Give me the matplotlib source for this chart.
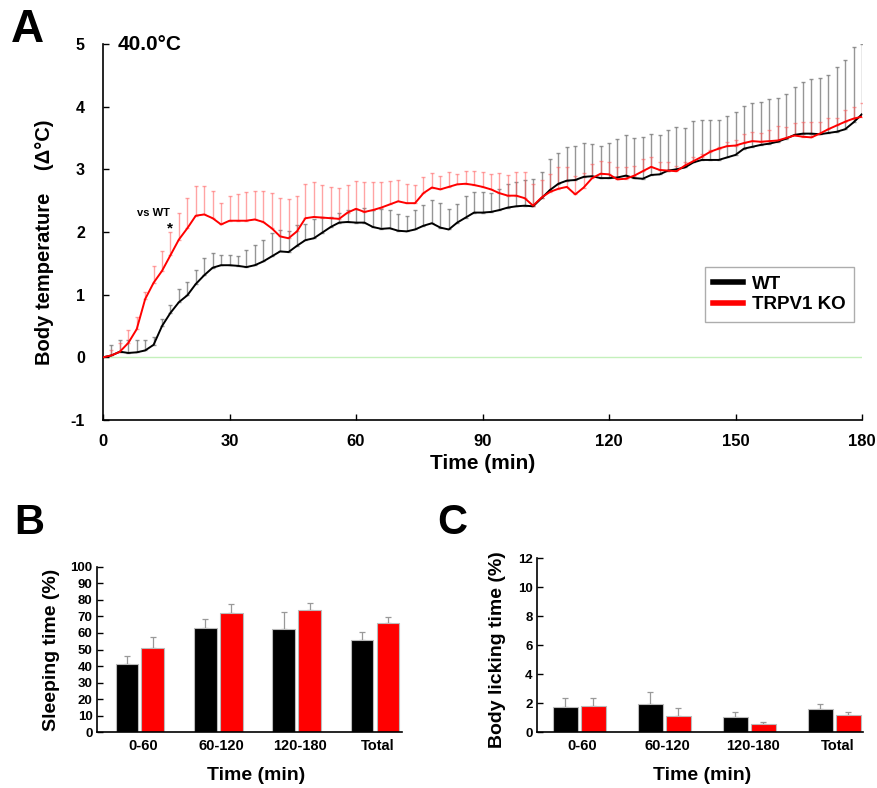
import numpy as np
import matplotlib
matplotlib.use("Agg")
import matplotlib.pyplot as plt
from matplotlib.lines import Line2D

plt.rcParams['font.family'] = ['Liberation Sans', 'DejaVu Sans']
plt.rcParams['font.weight'] = 'bold'
plt.rcParams['axes.unicode_minus'] = False

# ---------------- Panel A data (every 2 min) ----------------
time_min = list(range(0, 181, 2))

wt_mean = [0, 0.03, 0.09, 0.07, 0.08, 0.11, 0.20, 0.50, 0.71, 0.88,
           0.99, 1.17, 1.31, 1.43, 1.47, 1.47, 1.46, 1.44, 1.47, 1.53,
           1.61, 1.69, 1.68, 1.78, 1.87, 1.90, 1.99, 2.08, 2.15, 2.16,
           2.15, 2.15, 2.08, 2.05, 2.06, 2.02, 2.01, 2.04, 2.10, 2.14,
           2.07, 2.04, 2.15, 2.23, 2.31, 2.31, 2.32, 2.35, 2.39, 2.41,
           2.42, 2.41, 2.54, 2.67, 2.77, 2.82, 2.83, 2.88, 2.89, 2.86,
           2.86, 2.87, 2.90, 2.86, 2.85, 2.91, 2.92, 2.98, 3.00, 3.03,
           3.11, 3.15, 3.15, 3.15, 3.19, 3.23, 3.33, 3.36, 3.39, 3.41,
           3.44, 3.49, 3.55, 3.57, 3.57, 3.56, 3.58, 3.60, 3.64, 3.75,
           3.88]

wt_upper = [0, 0.19, 0.27, 0.28, 0.28, 0.27, 0.32, 0.61, 0.84, 1.09,
            1.21, 1.40, 1.59, 1.67, 1.64, 1.64, 1.62, 1.71, 1.79, 1.88,
            1.98, 2.03, 2.02, 2.11, 2.12, 2.21, 2.24, 2.24, 2.31, 2.35,
            2.37, 2.39, 2.35, 2.36, 2.35, 2.29, 2.26, 2.35, 2.43, 2.51,
            2.46, 2.37, 2.45, 2.58, 2.64, 2.64, 2.63, 2.68, 2.76, 2.79,
            2.83, 2.84, 2.96, 3.16, 3.26, 3.36, 3.37, 3.42, 3.41, 3.38,
            3.42, 3.48, 3.54, 3.50, 3.52, 3.57, 3.54, 3.62, 3.68, 3.66,
            3.77, 3.78, 3.79, 3.79, 3.85, 3.92, 4.01, 4.06, 4.07, 4.12,
            4.14, 4.21, 4.32, 4.39, 4.44, 4.45, 4.50, 4.63, 4.75, 4.96,
            5.00]

ko_mean = [0, 0.03, 0.09, 0.23, 0.45, 0.93, 1.19, 1.38, 1.63, 1.88,
           2.06, 2.26, 2.28, 2.22, 2.12, 2.18, 2.18, 2.18, 2.20, 2.16,
           2.06, 1.93, 1.90, 2.01, 2.22, 2.24, 2.23, 2.22, 2.21, 2.31,
           2.37, 2.32, 2.35, 2.39, 2.44, 2.49, 2.46, 2.46, 2.62, 2.71,
           2.68, 2.72, 2.76, 2.77, 2.75, 2.72, 2.68, 2.62, 2.58, 2.58,
           2.54, 2.42, 2.55, 2.64, 2.69, 2.72, 2.60, 2.71, 2.86, 2.93,
           2.92, 2.84, 2.85, 2.90, 2.97, 3.04, 2.99, 2.98, 2.97, 3.06,
           3.13, 3.20, 3.28, 3.33, 3.37, 3.38, 3.42, 3.45, 3.44, 3.45,
           3.46, 3.50, 3.54, 3.52, 3.51, 3.57, 3.64, 3.70, 3.76, 3.81,
           3.84]

ko_upper = [0, 0.12, 0.23, 0.44, 0.65, 1.05, 1.45, 1.69, 2.00, 2.31,
            2.54, 2.74, 2.74, 2.65, 2.47, 2.58, 2.60, 2.64, 2.66, 2.65,
            2.62, 2.54, 2.52, 2.58, 2.77, 2.80, 2.75, 2.72, 2.71, 2.75,
            2.82, 2.79, 2.79, 2.79, 2.82, 2.83, 2.76, 2.75, 2.88, 2.94,
            2.90, 2.95, 2.93, 2.98, 2.98, 2.95, 2.93, 2.94, 2.91, 2.96,
            2.95, 2.77, 2.83, 2.92, 3.03, 3.03, 2.90, 2.94, 3.08, 3.14,
            3.12, 3.03, 3.03, 3.06, 3.16, 3.20, 3.12, 3.12, 3.06, 3.12,
            3.20, 3.25, 3.31, 3.36, 3.44, 3.47, 3.56, 3.59, 3.58, 3.63,
            3.69, 3.68, 3.74, 3.76, 3.75, 3.75, 3.82, 3.82, 3.94, 4.00,
            4.06]

a_xticks = [0, 30, 60, 90, 120, 150, 180]
a_yticks = [-1, 0, 1, 2, 3, 4, 5]

# ---------------- Panels B / C data ----------------
bin_labels = ['0-60', '60-120', '120-180', 'Total']
sleep_wt = [41.2, 63.2, 62.6, 55.7]
sleep_wt_sem = [4.9, 5.0, 10.0, 4.7]
sleep_ko = [50.7, 72.2, 73.8, 65.8]
sleep_ko_sem = [7.0, 5.1, 4.1, 3.6]

lick_wt = [1.77, 1.93, 1.08, 1.59]
lick_wt_sem = [0.57, 0.83, 0.30, 0.34]
lick_ko = [1.84, 1.15, 0.55, 1.20]
lick_ko_sem = [0.50, 0.51, 0.14, 0.23]

W, H = 877, 788
fig = plt.figure(figsize=(W / 100, H / 100), dpi=100)


def box(l, t, r, b):
    return [l / W, 1 - b / H, (r - l) / W, (b - t) / H]


# ---------------- Panel A ----------------
ax = fig.add_axes(box(103, 44, 862, 420))
t = np.array(time_min)
wm, wu = np.array(wt_mean), np.array(wt_upper)
km, ku = np.array(ko_mean), np.array(ko_upper)
werr = np.maximum(wu - wm, 0)
kerr = np.maximum(ku - km, 0)

ax.axhline(0, color='#c4f0bc', lw=1.0, zorder=0)
ax.errorbar(t[1:], wm[1:], yerr=[np.zeros(len(t) - 1), werr[1:]], fmt='none',
            ecolor=(0.45, 0.45, 0.45, 0.75), elinewidth=1.0, capsize=1.5, capthick=1.0, zorder=1)
ax.errorbar(t[1:], km[1:], yerr=[np.zeros(len(t) - 1), kerr[1:]], fmt='none',
            ecolor=(1.0, 0.35, 0.35, 0.55), elinewidth=1.0, capsize=1.5, capthick=1.0, zorder=1)
ax.plot(t, wm, color='black', lw=1.4, zorder=3)
ax.plot(t, km, color='#ff0000', lw=1.4, zorder=4)

ax.set_xlim(0, 180)
ax.set_ylim(-1, 5)
ax.set_xticks(a_xticks)
ax.set_yticks(a_yticks)
ax.tick_params(direction='in', length=4, width=1, labelsize=12, pad=10)
ax.tick_params(axis='y', labelsize=11.5, pad=13)
for lab in ax.get_xticklabels() + ax.get_yticklabels():
    lab.set_fontweight('bold')
for s in ['top', 'right']:
    ax.spines[s].set_visible(False)
for s in ['left', 'bottom']:
    ax.spines[s].set_linewidth(1.2)
ax.set_xlabel('Time (min)', fontsize=15, fontweight='bold', labelpad=4)
ax.text(3.5, 5.0, '40.0°C', fontsize=15, fontweight='bold', ha='left', va='center')
ax.text(12.0, 2.3, 'vs WT', fontsize=8, fontweight='bold', ha='center', va='center')
ax.text(15.8, 2.05, '*', fontsize=11, fontweight='bold', ha='center', va='center')

handles = [Line2D([], [], color='black', lw=4), Line2D([], [], color='#ff0000', lw=4)]
leg = ax.legend(handles, ['WT', 'TRPV1 KO'], loc='upper left',
                bbox_to_anchor=((705 - 103) / 759, (420 - 267) / 376), borderaxespad=0,
                prop={'weight': 'bold', 'size': 13.5}, frameon=True, fancybox=False,
                edgecolor='#999999', handlelength=1.6, handletextpad=0.45,
                borderpad=0.45, labelspacing=0.2)
leg.get_frame().set_linewidth(1.0)

fig.text(45 / W, 1 - 242 / H, 'Body temperature    (\u0394°C)', rotation=90, fontsize=14.5,
         fontweight='bold', ha='center', va='center')
fig.text(11 / W, 1 - 30 / H, 'A', fontsize=33, fontweight='bold', ha='left', va='center')
fig.text(14 / W, 1 - 523 / H, 'B', fontsize=30, fontweight='bold', ha='left', va='center')
fig.text(437 / W, 1 - 523 / H, 'C', fontsize=30, fontweight='bold', ha='left', va='center')


def bar_panel(rect, wt, wts, ko, kos, ylim, yticks, ylabel, xlim, ylab_x, xlab_x):
    axb = fig.add_axes(rect)
    x = np.arange(len(bin_labels))
    off, bw = 0.165, 0.29
    axb.bar(x - off, wt, bw, color='black', edgecolor='#bbbbbb', linewidth=0.8, zorder=2)
    axb.bar(x + off, ko, bw, color='#ff0000', edgecolor='#bbbbbb', linewidth=0.8, zorder=2)
    axb.errorbar(x - off, wt, yerr=[np.zeros(len(x)), wts], fmt='none', ecolor='#999999',
                 elinewidth=0.9, capsize=2, capthick=0.9, zorder=1)
    axb.errorbar(x + off, ko, yerr=[np.zeros(len(x)), kos], fmt='none', ecolor='#999999',
                 elinewidth=0.9, capsize=2, capthick=0.9, zorder=1)
    axb.set_xlim(*xlim)
    axb.set_ylim(*ylim)
    axb.set_yticks(yticks)
    axb.set_xticks(x + 0.04)
    axb.set_xticklabels(bin_labels)
    axb.tick_params(axis='y', direction='in', length=4, width=1, labelsize=9.5, pad=3)
    axb.tick_params(axis='x', length=0, labelsize=10.5, pad=5)
    for lab in axb.get_xticklabels() + axb.get_yticklabels():
        lab.set_fontweight('bold')
    for s in ['top', 'right']:
        axb.spines[s].set_visible(False)
    for s in ['left', 'bottom']:
        axb.spines[s].set_linewidth(1.2)
    fig.text(ylab_x / W, 1 - 650 / H, ylabel, rotation=90, fontsize=14, fontweight='bold',
             ha='center', va='center')
    fig.text(xlab_x / W, 1 - 775 / H, 'Time (min)', fontsize=14, fontweight='bold',
             ha='center', va='center')
    return axb


bar_panel(box(96.7, 566.7, 401.7, 732.3), sleep_wt, sleep_wt_sem, sleep_ko, sleep_ko_sem,
          (0, 100), list(range(0, 101, 10)), 'Sleeping time (%)', (-0.55, 3.34), 52, 256)
bar_panel(box(536.7, 558.3, 863.3, 732.3), lick_wt, lick_wt_sem, lick_ko, lick_ko_sem,
          (0, 12), list(range(0, 13, 2)), 'Body licking time (%)', (-0.5, 3.34), 498, 702)

fig.savefig('out.png', dpi=100)
